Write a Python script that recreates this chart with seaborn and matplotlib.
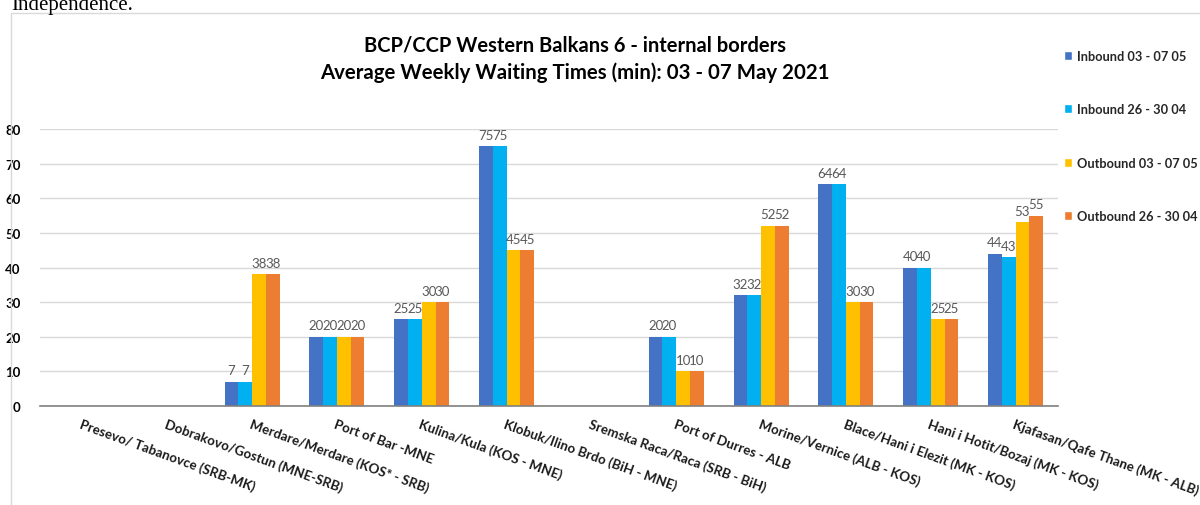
import numpy as np
import pandas as pd
import matplotlib
matplotlib.use("Agg")
import matplotlib.pyplot as plt
from matplotlib.patches import Rectangle
import seaborn as sns

categories = [
    "Presevo/ Tabanovce (SRB-MK)",
    "Dobrakovo/Gostun (MNE-SRB)",
    "Merdare/Merdare (KOS* - SRB)",
    "Port of Bar -MNE",
    "Kulina/Kula (KOS - MNE)",
    "Klobuk/Ilino Brdo (BiH - MNE)",
    "Sremska Raca/Raca (SRB - BiH)",
    "Port of Durres - ALB",
    "Morine/Vernice (ALB - KOS)",
    "Blace/Hani i Elezit (MK - KOS)",
    "Hani i Hotit/Bozaj (MK - KOS)",
    "Kjafasan/Qafe Thane (MK - ALB)",
]
nan = np.nan
inbound_0307 = [nan, nan, 7, 20, 25, 75, nan, 20, 32, 64, 40, 44]
inbound_2630 = [nan, nan, 7, 20, 25, 75, nan, 20, 32, 64, 40, 43]
outbound_0307 = [nan, nan, 38, 20, 30, 45, nan, 10, 52, 30, 25, 53]
outbound_2630 = [nan, nan, 38, 20, 30, 45, nan, 10, 52, 30, 25, 55]
series_names = ["Inbound 03 - 07 05", "Inbound 26 - 30 04",
                "Outbound 03 - 07 05", "Outbound 26 - 30 04"]
colors = ["#4472C4", "#00B0F0", "#FFC000", "#ED7D31"]
yticks = [0, 10, 20, 30, 40, 50, 60, 70, 80]

rows = []
for name, vals in zip(series_names, [inbound_0307, inbound_2630, outbound_0307, outbound_2630]):
    for c, v in zip(categories, vals):
        rows.append({"Crossing": c, "Series": name, "Minutes": v})
df = pd.DataFrame(rows)

sns.set_theme(style="white")
plt.rcParams['font.family'] = ['Lato', 'DejaVu Sans']

fig = plt.figure(figsize=(12, 5.06), dpi=100)
ax = fig.add_axes([40/1200, 1-407/506, (1058-40)/1200, (407-130)/506])

sns.barplot(data=df, x="Crossing", y="Minutes", hue="Series", order=categories,
            hue_order=series_names, palette=colors, width=0.65, saturation=1,
            errorbar=None, ax=ax, legend=True)

for cont in ax.containers:
    labels = []
    for p in cont:
        h = p.get_height()
        labels.append("" if not np.isfinite(h) or h == 0 else f"{h:g}")
    for p in cont:
        p.set_edgecolor("none")
    ax.bar_label(cont, labels=labels, padding=4, fontsize=9.5, color="#595959")

ax.set_ylim(0, 80)
ax.set_xlim(-0.5, len(categories) - 0.5)
ax.set_yticks(yticks)
ax.set_yticklabels([str(t) for t in yticks], fontweight="bold", fontsize=9.5, color="#000000")
ax.tick_params(axis="y", length=0, pad=14)
ax.tick_params(axis="x", length=0, pad=8)
ax.yaxis.grid(True, color="#D9D9D9", linewidth=1)
ax.set_axisbelow(True)
for s in ["top", "right", "left"]:
    ax.spines[s].set_visible(False)
ax.spines["bottom"].set_color("#808080")
ax.spines["bottom"].set_linewidth(1.2)
ax.set_xlabel("")
ax.set_ylabel("")
ax.set_xticks(range(len(categories)))
ax.set_xticklabels(categories, rotation=-20, ha="left", va="top",
                   rotation_mode="anchor", fontsize=9.6, fontweight="bold", color="#1a1a1a")

handles, labs = ax.get_legend_handles_labels()
ax.legend(handles, labs, loc="upper left", bbox_to_anchor=(1052/1200, 1-39/506),
          bbox_transform=fig.transFigure, frameon=False, labelspacing=3.25,
          handlelength=0.7, handleheight=0.7, handletextpad=0.35,
          prop={"weight": "bold", "size": 9.2})

fig.text(0.479, 1-45/506, "BCP/CCP Western Balkans 6 - internal borders",
         ha="center", va="center", fontsize=14.5, fontweight="bold", color="#000000")
fig.text(0.479, 1-73/506, "Average Weekly Waiting Times (min): 03 - 07 May 2021",
         ha="center", va="center", fontsize=14.7, fontweight="bold", color="#000000")

fig.text(11/1200, 1-10/506, "Independence.", ha="left", va="baseline",
         fontsize=15, family="Liberation Serif", color="#000000")
fig.add_artist(Rectangle((11/1200, -0.1), 1.0, 1-14/506 + 0.1, transform=fig.transFigure,
                         fill=False, edgecolor="#D9D9D9", linewidth=1))

fig.savefig("out.png", dpi=100)
